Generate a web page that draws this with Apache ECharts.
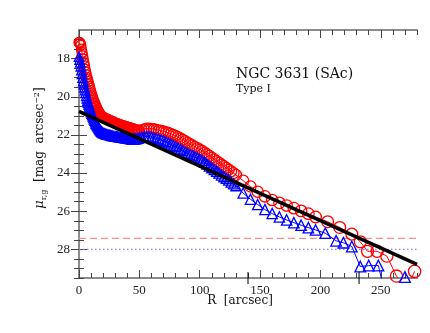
<!DOCTYPE html>
<html>
<head>
<meta charset="utf-8">
<script src="https://cdn.jsdelivr.net/npm/echarts@6/dist/echarts.min.js"></script>
<style>
  html, body { margin: 0; padding: 0; background: #fff; }
  #chart { width: 430px; height: 333px; }
</style>
</head>
<body>
<div id="chart"></div>
<script>
// surface brightness profile, r band (red circles)
const redR = [0, 0.5, 1, 1.5, 2, 2.5, 3, 3.5, 4, 4.5, 5, 5.5, 6, 6.5, 7, 7.5, 8, 8.5, 9, 9.5,
    10, 10.5, 11, 11.5, 12, 12.5, 13, 13.5, 14, 14.5, 15, 15.5, 16, 16.5, 17, 17.5, 18, 18.5, 19, 19.5, 20,
    21, 22, 23, 24, 25, 26, 27, 28, 29, 30, 31, 32, 33, 34, 35, 36, 37, 38, 39, 40,
    41, 42, 43, 44, 45, 46, 47, 48, 49, 50,
    52, 54, 56, 58, 60, 62, 64, 66, 68, 70, 72, 74, 76, 78, 80, 82, 84, 86, 88, 90,
    92, 94, 96, 98, 100, 102, 104, 106, 108, 110, 112, 114, 116, 118, 120, 122, 124, 126, 128, 130,
    136, 142, 148, 154, 160, 166, 172, 178, 184, 190, 196,
    206, 216, 226, 233, 239, 247, 255, 263, 271, 278];
const redMu = [17.15, 17.15, 17.2, 17.3, 17.5, 17.68, 17.85, 18.02, 18.2, 18.38, 18.55, 18.7, 18.85, 18.98, 19.1, 19.21, 19.32, 19.44, 19.55, 19.68,
    19.8, 19.9, 20.0, 20.1, 20.2, 20.28, 20.35, 20.43, 20.5, 20.58, 20.65, 20.72, 20.78, 20.83, 20.88, 20.93, 20.97, 21.0, 21.03, 21.06, 21.08,
    21.11, 21.14, 21.17, 21.2, 21.23, 21.25, 21.28, 21.31, 21.34, 21.37, 21.4, 21.42, 21.45, 21.47, 21.49, 21.51, 21.53, 21.55, 21.57, 21.59,
    21.61, 21.63, 21.65, 21.67, 21.69, 21.71, 21.73, 21.75, 21.77, 21.77,
    21.73, 21.69, 21.66, 21.66, 21.67, 21.69, 21.72, 21.75, 21.78, 21.81, 21.85, 21.89, 21.94, 21.99, 22.04, 22.11, 22.18, 22.25, 22.32, 22.4,
    22.48, 22.55, 22.62, 22.69, 22.76, 22.83, 22.92, 23.01, 23.1, 23.19, 23.28, 23.37, 23.46, 23.55, 23.64, 23.73, 23.82, 23.91, 24.0, 24.1,
    24.4, 24.7, 24.98, 25.22, 25.41, 25.56, 25.7, 25.84, 25.98, 26.13, 26.3,
    26.55, 26.85, 27.2, 27.6, 28.1, 28.1, 28.35, 29.4, 30.2, 29.15];

// g band (blue triangles)
const blueR = [0, 0.5, 1, 1.5, 2, 2.5, 3, 3.5, 4, 4.5, 5, 5.5, 6, 6.5, 7, 7.5, 8, 8.5, 9, 9.5,
    10, 10.5, 11, 11.5, 12, 12.5, 13, 13.5, 14, 14.5, 15, 15.5, 16, 16.5, 17, 17.5, 18, 18.5, 19, 19.5, 20,
    21, 22, 23, 24, 25, 26, 27, 28, 29, 30, 31, 32, 33, 34, 35, 36, 37, 38, 39, 40,
    41, 42, 43, 44, 45, 46, 47, 48, 49, 50,
    52, 54, 56, 58, 60, 62, 64, 66, 68, 70, 72, 74, 76, 78, 80, 82, 84, 86, 88, 90,
    92, 94, 96, 98, 100, 102, 104, 106, 108, 110, 112, 114, 116, 118, 120, 122, 124, 126, 128, 130,
    136, 142, 148, 154, 160, 166, 172, 178, 184, 190, 196,
    204, 213, 219, 226, 233, 240, 248, 256, 263, 270, 277];
const blueMu = [17.9, 18.05, 18.2, 18.4, 18.6, 18.8, 19.0, 19.18, 19.35, 19.5, 19.65, 19.8, 19.95, 20.08, 20.2, 20.3, 20.4, 20.5, 20.6, 20.7,
    20.8, 20.88, 20.95, 21.03, 21.1, 21.18, 21.25, 21.33, 21.4, 21.45, 21.5, 21.55, 21.6, 21.65, 21.7, 21.74, 21.78, 21.82, 21.85, 21.88, 21.9,
    21.93, 21.95, 21.97, 21.98, 22.0, 22.02, 22.04, 22.05, 22.07, 22.08, 22.09, 22.1, 22.11, 22.12, 22.13, 22.14, 22.15, 22.16, 22.17, 22.18,
    22.19, 22.2, 22.21, 22.22, 22.22, 22.22, 22.21, 22.2, 22.18, 22.15,
    22.11, 22.09, 22.08, 22.09, 22.11, 22.14, 22.18, 22.22, 22.26, 22.31, 22.36, 22.42, 22.49, 22.56, 22.62, 22.69, 22.76, 22.83, 22.9, 22.97,
    23.03, 23.09, 23.15, 23.2, 23.26, 23.34, 23.44, 23.53, 23.63, 23.72, 23.81, 23.91, 24.0, 24.1, 24.19, 24.28, 24.37, 24.47, 24.56, 24.66,
    25.05, 25.37, 25.65, 25.91, 26.12, 26.3, 26.46, 26.6, 26.73, 26.86, 26.98,
    27.15, 27.55, 27.65, 27.85, 28.9, 28.85, 28.85, 31.0, 30.3, 29.45, 30.5];

// exponential disc fit
const fitR = [0, 280];
const fitMu = [20.77, 28.79];

// sky limits, drawn across the full radial range
const skyR = [0, 280];
const skyRed = 27.42;   // r-band limit
const skyBlue = 28.0;   // g-band limit
const breakR = [140, 232];

const xTickLabels = [0, 50, 100, 150, 200, 250];
const yTickLabels = [18, 20, 22, 24, 26, 28];

const titleText = 'NGC 3631 (SAc)';
const typeText = 'Type I';

const zip = (a, b) => a.map((v, i) => [v, b[i]]);
const xMinor = Array.from({length: 29}, (_, i) => i * 10);
const yMinor = Array.from({length: 26}, (_, i) => 17 + i * 0.5);

const frame = {show: true, lineStyle: {color: '#8c8c8c', width: 2}};
const tickStyle = {color: '#444', width: 1};
const labelFont = {fontFamily: 'Liberation Serif', fontSize: 13, color: '#222'};

function xAxisDef(pos, values, len, withLabel) {
    return {
        type: 'value', position: pos, min: 0, max: 280,
        axisLine: withLabel !== undefined ? frame : {show: false},
        axisTick: {show: true, inside: true, length: len, customValues: values, lineStyle: tickStyle},
        axisLabel: withLabel ? Object.assign({customValues: xTickLabels, margin: 6}, labelFont) : {show: false},
        splitLine: {show: false}
    };
}

function yAxisDef(pos, values, len, withLabel) {
    return {
        type: 'value', position: pos, min: 16.5, max: 29.5, inverse: true,
        axisLine: withLabel !== undefined ? frame : {show: false},
        axisTick: {show: true, inside: true, length: len, customValues: values, lineStyle: tickStyle},
        axisLabel: withLabel ? Object.assign({customValues: yTickLabels, margin: 9}, labelFont) : {show: false},
        splitLine: {show: false}
    };
}

function skyLine(name, mu, color, dash) {
    return {
        name: name,
        type: 'line',
        data: skyR.map(r => [r, mu]),
        symbol: 'none',
        silent: true,
        z: 1,
        lineStyle: {color: color, type: dash, width: 1.2}
    };
}

const chart = echarts.init(document.getElementById('chart'));

chart.setOption({
    animation: false,
    backgroundColor: '#fff',
    grid: {left: 79, right: 13, top: 30, bottom: 55},
    xAxis: [
        xAxisDef('bottom', xMinor, 5, true),
        xAxisDef('top', xMinor, 5, false),
        xAxisDef('bottom', xTickLabels, 8),
        xAxisDef('top', xTickLabels, 8)
    ],
    yAxis: [
        yAxisDef('left', yMinor, 5, true),
        yAxisDef('right', yMinor, 5, false),
        yAxisDef('left', yTickLabels, 8),
        yAxisDef('right', yTickLabels, 8)
    ],
    graphic: [
        {
            type: 'text', x: 236, y: 74, silent: true,
            style: {text: titleText, font: '14px "DejaVu Serif"', fill: '#111', textVerticalAlign: 'middle'}
        },
        {
            type: 'text', x: 236, y: 89, silent: true,
            style: {text: typeText, font: '11px "DejaVu Serif"', fill: '#111', textVerticalAlign: 'middle'}
        },
        {
            type: 'text', x: 240, y: 301, silent: true,
            style: {text: 'R  [arcsec]', font: '12px "DejaVu Serif"', fill: '#111', textAlign: 'center', textVerticalAlign: 'middle'}
        },
        {
            type: 'text', x: 40, y: 148, rotation: Math.PI / 2, silent: true,
            style: {
                text: '{mu|μ}{sub|r,g}  [mag  arcsec{sup|−2}]',
                font: '12px "DejaVu Serif"', fill: '#111', textAlign: 'center', textVerticalAlign: 'middle',
                rich: {
                    mu: {fontSize: 13, fontFamily: 'DejaVu Serif', fontStyle: 'italic'},
                    sub: {fontSize: 8, fontFamily: 'DejaVu Serif', padding: [7, 0, 0, 0]},
                    sup: {fontSize: 8, fontFamily: 'DejaVu Serif', padding: [0, 0, 7, 0]}
                }
            }
        }
    ],
    series: [
        skyLine('sky r', skyRed, '#ff8c8c', [7, 4]),
        skyLine('sky g', skyBlue, '#8080ff', [1.5, 2.5]),
        {
            name: 'r',
            type: 'line',
            data: zip(redR, redMu),
            symbol: 'circle',
            symbolSize: v => 10 + v[0] / 120,
            showAllSymbol: true,
            clip: true,
            silent: true,
            z: 2,
            lineStyle: {color: '#ff0000', width: 1},
            itemStyle: {color: 'rgba(0,0,0,0)', borderColor: '#ff0000', borderWidth: 1.3}
        },
        {
            name: 'g',
            type: 'line',
            data: zip(blueR, blueMu),
            symbol: 'triangle',
            symbolSize: v => 9.5 + v[0] / 200,
            showAllSymbol: true,
            clip: true,
            silent: true,
            z: 3,
            lineStyle: {color: '#0000ff', width: 1},
            itemStyle: {color: 'rgba(0,0,0,0)', borderColor: '#0000ff', borderWidth: 1.3}
        },
        {
            name: 'fit',
            type: 'line',
            data: zip(fitR, fitMu),
            symbol: 'none',
            clip: true,
            silent: true,
            z: 4,
            lineStyle: {color: '#000', width: 3.5}
        },
        {
            name: 'breaks',
            type: 'custom',
            data: breakR.map(r => [r, 29.5]),
            clip: false,
            silent: true,
            z: 5,
            renderItem: function (params, api) {
                const p = api.coord([api.value(0), api.value(1)]);
                return {
                    type: 'line',
                    shape: {x1: p[0], y1: p[1] - 6, x2: p[0], y2: p[1] + 6},
                    style: {stroke: '#000', lineWidth: 1}
                };
            }
        }
    ]
});
</script>
</body>
</html>
